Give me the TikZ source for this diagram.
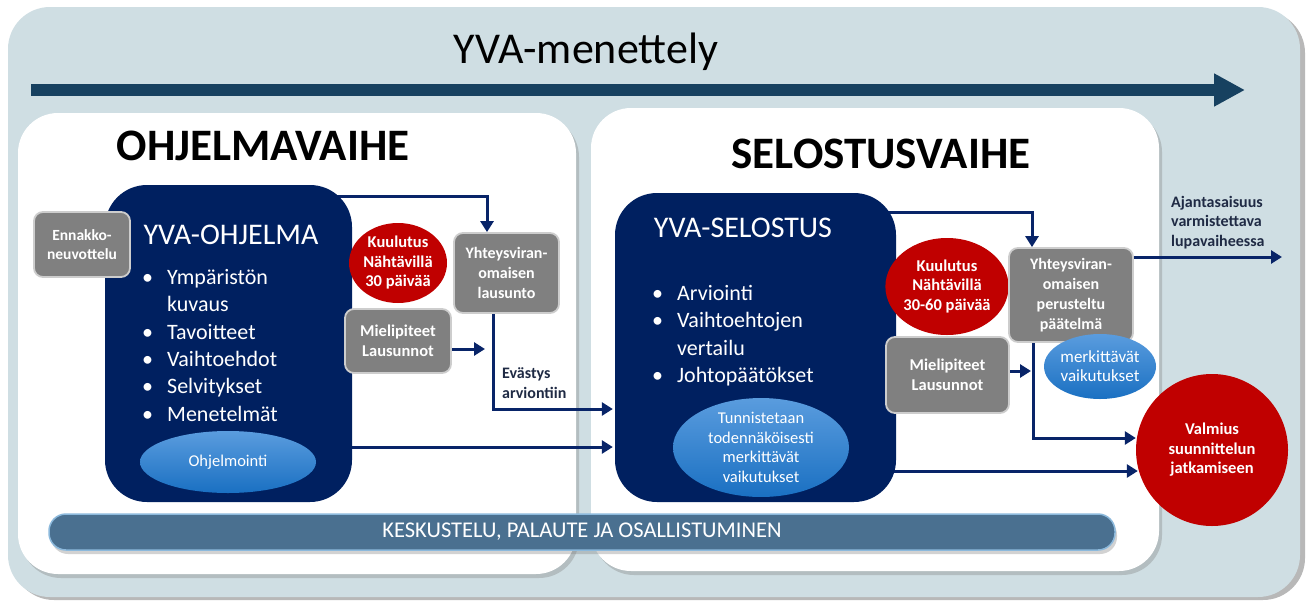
\documentclass[tikz,border=0pt]{standalone}
\usepackage{fontspec}
\setmainfont{Carlito}
\usetikzlibrary{arrows.meta,shapes.geometric,shadows,calc}
\definecolor{bgblue}{RGB}{207,222,227}
\definecolor{arrowblue}{RGB}{23,65,96}
\definecolor{navy}{RGB}{0,32,96}
\definecolor{connblue}{RGB}{8,36,104}
\definecolor{greybox}{RGB}{128,128,128}
\definecolor{greyedge}{RGB}{205,205,205}
\definecolor{redc}{RGB}{192,0,0}
\definecolor{elltop}{RGB}{90,156,222}
\definecolor{ellbot}{RGB}{26,112,194}
\definecolor{barfill}{RGB}{74,112,144}
\definecolor{baredge}{RGB}{140,185,220}
\definecolor{labeltext}{RGB}{31,42,68}
\pgfdeclarelayer{back}
\pgfdeclarelayer{mid}
\pgfsetlayers{back,mid,main}
\newcommand\myfs[2]{\fontsize{#1}{#2}\selectfont}
\begin{document}
\begin{tikzpicture}[x=1pt,y=-1pt,
 panel/.style={fill=white, rounded corners=40pt, inner sep=0pt, drop shadow={shadow xshift=3pt,shadow yshift=-4pt,opacity=0.35}},
 navybox/.style={fill=navy, rounded corners=42pt, inner sep=0pt},
 greyb/.style={fill=greybox, draw=greyedge, line width=1.8pt, rounded corners=9pt, text=white, font=\bfseries\myfs{16}{19.8}, align=center, inner sep=0pt},
 redell/.style={ellipse, fill=redc, text=white, font=\bfseries\myfs{16.5}{19.5}, align=center, inner sep=0pt},
 blueell/.style={ellipse, top color=elltop, bottom color=ellbot, text=white, align=center, inner sep=0pt},
 conn/.style={draw=connblue, line width=3pt, -{Triangle[length=11pt,width=13pt]}},
 lbl/.style={text=labeltext, font=\bfseries\myfs{16}{19.5}, align=left, anchor=west, inner sep=0pt},
 bullets/.style={text=white, font=\myfs{22}{27.3}, anchor=base west, inner sep=0pt},
]
\useasboundingbox (0,0) rectangle (1311,600);
\begin{pgfonlayer}{back}
\fill[white] (0,0) rectangle (1311,600);
\fill[black!28, rounded corners=42pt] (12,11) rectangle (1305,600);
\fill[bgblue, rounded corners=42pt] (8,7) rectangle (1300,597);
\node[panel, minimum width=558pt, minimum height=461pt] (lpanel) at (297,343.5) {};
\node[panel, minimum width=568pt, minimum height=463pt] (rpanel) at (875,339.5) {};
\end{pgfonlayer}

% title and main arrow
\node[font=\myfs{44}{50}] (title) at (586,52) {YVA-menettely};
\coordinate (as) at (31,90);
\coordinate (ae) at (1245,90);
\draw[arrowblue, line width=12pt, -{Triangle[length=31pt,width=31pt]}] (as) -- (ae);

% phase titles
\node[font=\bfseries\myfs{45}{50}] (ltitle) at (263,146) {OHJELMAVAIHE};
\node[font=\bfseries\myfs{45}{50}] (rtitle) at (881,154) {SELOSTUSVAIHE};

% navy boxes
\node[navybox, minimum width=247pt, minimum height=317pt] (ohj) at (228.5,343.5) {};
\node[navybox, minimum width=281pt, minimum height=309pt] (sel) at (755.5,347.5) {};

\node[text=white, font=\myfs{30}{36}] (ohjt) at (231,235) {YVA-OHJELMA};
\node[bullets] (ohjl) at (142,284.5) {\begin{tabular}[t]{@{}p{25pt}@{}l@{}}%
\textbullet & Ympäristön\\ & kuvaus\\ \textbullet & Tavoitteet\\ \textbullet & Vaihtoehdot\\
\textbullet & Selvitykset\\ \textbullet & Menetelmät\end{tabular}};
\node[blueell, minimum width=176pt, minimum height=62pt, font=\myfs{16.5}{19.5}] (ohjm) at (228,462) {Ohjelmointi};

\node[text=white, font=\myfs{30}{36}] (selt) at (743,228) {YVA-SELOSTUS};
\node[bullets] (sell) at (652,300.5) {\begin{tabular}[t]{@{}p{25pt}@{}l@{}}%
\textbullet & Arviointi\\ \textbullet & Vaihtoehtojen\\ & vertailu\\ \textbullet & Johtopäätökset\end{tabular}};
\node[blueell, minimum width=176pt, minimum height=89pt, font=\myfs{16.5}{19.5}] (selm) at (761,447.5) {Tunnistetaan\\todennäköisesti\\merkittävät\\vaikutukset};

% left phase side boxes
\node[greyb, minimum width=96pt, minimum height=65pt, font=\bfseries\myfs{15.5}{19}] (enn) at (82,244.5) {Ennakko-\\neuvottelu};
\node[redell, minimum width=98pt, minimum height=80pt] (kuu1) at (398,263) {Kuulutus\\Nähtävillä\\30 päivää};
\node[greyb, minimum width=105pt, minimum height=80pt] (yl1) at (506.5,273) {Yhteysviran-\\omaisen\\lausunto};
\node[greyb, minimum width=106pt, minimum height=64pt, font=\bfseries\myfs{16.5}{20}] (mp1) at (398,341) {Mielipiteet\\Lausunnot};
\node[lbl] (ev) at (502,383) {Evästys\\arviontiin};

% right phase side boxes
\node[redell, minimum width=122pt, minimum height=97pt] (kuu2) at (947,286.5) {Kuulutus\\Nähtävillä\\30-60 päivää};
\node[greyb, minimum width=124pt, minimum height=94pt] (yl2) at (1071,295) {Yhteysviran-\\omaisen\\perusteltu\\päätelmä};
\node[blueell, minimum width=112pt, minimum height=65pt, font=\myfs{17}{19}] (merk) at (1100,366.5) {merkittävät\\vaikutukset};
\node[greyb, minimum width=123pt, minimum height=76pt, font=\bfseries\myfs{16.5}{20}] (mp2) at (947.5,375) {Mielipiteet\\Lausunnot};
\node[circle, fill=redc, minimum size=152pt, inner sep=0pt, text=white, align=center, font=\bfseries\myfs{16.5}{19.5}] (valm) at (1212,450) {Valmius\\suunnittelun\\jatkamiseen};
\node[lbl] (ajan) at (1171,222.5) {Ajantasaisuus\\varmistettava\\lupavaiheessa};

% bottom bar
\node[fill=barfill, draw=baredge, line width=1.5pt, rounded corners=17pt, minimum width=1066pt, minimum height=36pt, inner sep=0pt, text=white, font=\myfs{22.5}{24}, drop shadow={shadow xshift=2pt,shadow yshift=-4pt,opacity=0.35}] (bar) at (582,532) {KESKUSTELU, PALAUTE JA OSALLISTUMINEN};

% connectors
\coordinate (c1) at (487,196);
\coordinate (m1) at (485,349);
\coordinate (e1) at (493,409);
\coordinate (low1) at (0,447);
\coordinate (c2) at (1032,212);
\coordinate (aj) at (1282,257);
\coordinate (m2) at (1031,371);
\coordinate (v1) at (1033,438);
\coordinate (v2) at (0,471);
\begin{pgfonlayer}{mid}
\draw[conn] (ohj.center |- c1) -| (yl1.north -| c1);
\draw[conn] (mp1.center |- m1) -- (m1);
\draw[conn] (yl1.center -| e1) |- ($(sel.west |- e1)+(-2,0)$);
\draw[conn] (ohj.center |- low1) -- ($(sel.west |- low1)+(-2,0)$);
\draw[conn] (sel.center |- c2) -| (yl2.north -| c2);
\draw[conn] (yl2.center |- aj) -- (aj);
\draw[conn] (mp2.center |- m2) -- (m2);
\draw[conn] (yl2.center -| v1) |- (valm.west |- v1);
\draw[conn] (sel.center |- v2) -- ($(valm.west |- v2)+(2,0)$);
\end{pgfonlayer}
\end{tikzpicture}
\end{document}
